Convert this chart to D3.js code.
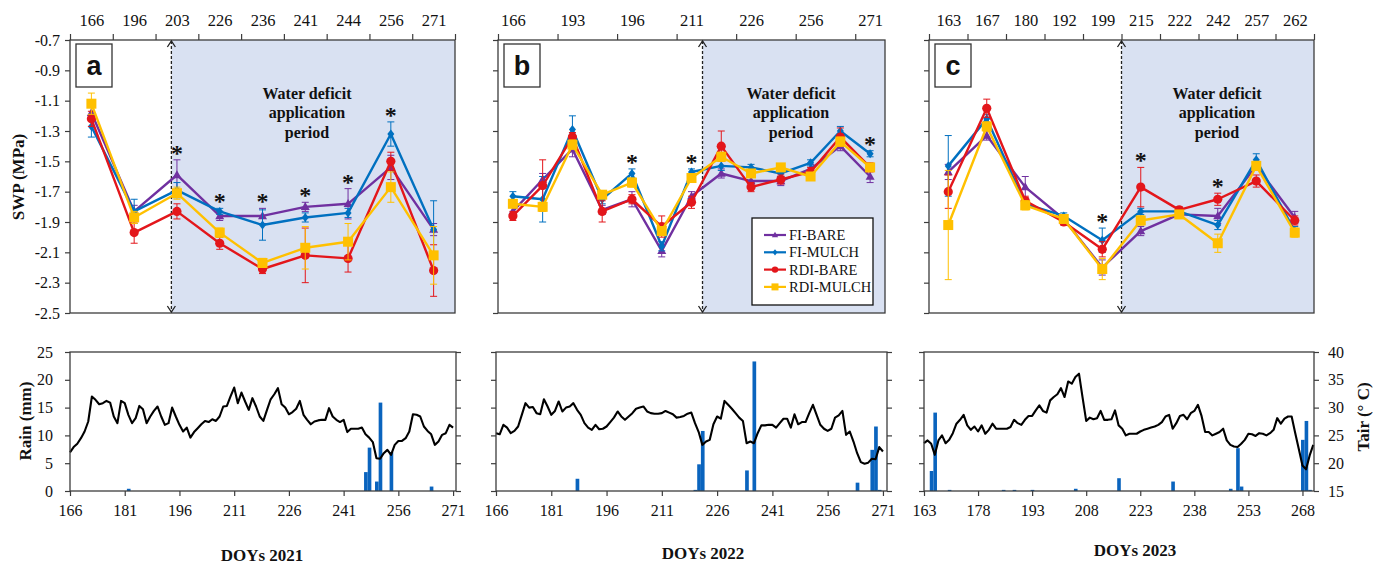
<!DOCTYPE html>
<html>
<head>
<meta charset="utf-8">
<script src="https://cdn.jsdelivr.net/npm/d3@7"></script>
<style>
  body { margin: 0; background: #fff; }
  text { font-family: "Liberation Serif", "Times New Roman", serif; fill: #111; }
</style>
</head>
<body>
<svg id="chart" width="1384" height="566"></svg>
<script>
// ---------- Stem water potential (SWP, MPa) by measurement day ----------
const doy2021 = ["166", "196", "203", "226", "236", "241", "244", "256", "271"];
const fiBare2021 = [-1.18, -1.83, -1.59, -1.86, -1.86, -1.80, -1.78, -1.54, -1.95];
const fiMulch2021 = [-1.27, -1.83, -1.69, -1.83, -1.92, -1.87, -1.84, -1.32, -1.95];
const rdiBare2021 = [-1.22, -1.97, -1.83, -2.04, -2.21, -2.12, -2.14, -1.50, -2.22];
const rdiMulch2021 = [-1.12, -1.87, -1.71, -1.97, -2.17, -2.07, -2.03, -1.67, -2.12];
const fiBareSe2021 = [0.05, 0.04, 0.10, 0.03, 0.05, 0.03, 0.10, 0.08, 0.04];
const fiMulchSe2021 = [0.07, 0.08, 0.05, 0.02, 0.10, 0.03, 0.03, 0.08, 0.19];
const rdiBareSe2021 = [0.05, 0.07, 0.05, 0.04, 0.03, 0.18, 0.09, 0.06, 0.17];
const rdiMulchSe2021 = [0.07, 0.04, 0.04, 0.03, 0.03, 0.14, 0.12, 0.10, 0.19];
const signif2021 = [2, 3, 4, 5, 6, 7];

// 2022: thirteen measurement days, every second one labelled on the axis
const doy2022 = ["166", "", "193", "", "196", "", "211", "", "226", "", "256", "", "271"];
const fiBare2022 = [-1.83, -1.62, -1.42, -1.82, -1.75, -2.09, -1.73, -1.58, -1.63, -1.63, -1.55, -1.40, -1.60];
const fiMulch2022 = [-1.73, -1.75, -1.29, -1.75, -1.58, -2.06, -1.57, -1.53, -1.54, -1.58, -1.51, -1.30, -1.45];
const rdiBare2022 = [-1.86, -1.66, -1.34, -1.83, -1.75, -1.93, -1.77, -1.40, -1.67, -1.62, -1.57, -1.34, -1.54];
const rdiMulch2022 = [-1.78, -1.80, -1.39, -1.72, -1.64, -1.96, -1.61, -1.47, -1.58, -1.54, -1.60, -1.37, -1.54];
const fiBareSe2022 = [0.03, 0.04, 0.05, 0.03, 0.05, 0.04, 0.03, 0.03, 0.03, 0.03, 0.03, 0.03, 0.04];
const fiMulchSe2022 = [0.03, 0.15, 0.09, 0.03, 0.03, 0.03, 0.02, 0.03, 0.02, 0.02, 0.02, 0.03, 0.02];
const rdiBareSe2022 = [0.03, 0.17, 0.03, 0.07, 0.03, 0.07, 0.04, 0.10, 0.03, 0.03, 0.03, 0.06, 0.03];
const rdiMulchSe2022 = [0.02, 0.03, 0.03, 0.02, 0.03, 0.03, 0.02, 0.03, 0.02, 0.02, 0.02, 0.03, 0.02];
const signif2022 = [4, 6, 12];

const doy2023 = ["163", "167", "180", "192", "199", "215", "222", "242", "257", "262"];
const fiBare2023 = [-1.57, -1.33, -1.67, -1.88, -2.20, -1.96, -1.85, -1.86, -1.53, -1.87];
const fiMulch2023 = [-1.53, -1.22, -1.78, -1.86, -2.02, -1.83, -1.83, -1.92, -1.49, -1.96];
const rdiBare2023 = [-1.70, -1.15, -1.76, -1.90, -2.08, -1.67, -1.82, -1.75, -1.63, -1.89];
const rdiMulch2023 = [-1.92, -1.27, -1.79, -1.88, -2.21, -1.89, -1.85, -2.04, -1.53, -1.97];
const fiBareSe2023 = [0.05, 0.03, 0.07, 0.02, 0.05, 0.03, 0.02, 0.05, 0.03, 0.04];
const fiMulchSe2023 = [0.20, 0.03, 0.03, 0.02, 0.08, 0.02, 0.02, 0.03, 0.04, 0.03];
const rdiBareSe2023 = [0.11, 0.06, 0.03, 0.02, 0.05, 0.13, 0.02, 0.04, 0.04, 0.03];
const rdiMulchSe2023 = [0.36, 0.03, 0.03, 0.02, 0.07, 0.03, 0.02, 0.06, 0.03, 0.03];
const signif2023 = [4, 5, 7];

// start of the water deficit period, in measurement-day units along the axis
const deficitStart2021 = 2.37;
const deficitStart2022 = 6.87;
const deficitStart2023 = 5.0;

const swpTicks = [-0.7, -0.9, -1.1, -1.3, -1.5, -1.7, -1.9, -2.1, -2.3, -2.5];
const treatments = ["FI-BARE", "FI-MULCH", "RDI-BARE", "RDI-MULCH"];

// ---------- Daily weather: rain (mm) and mean air temperature (°C) ----------
const tairStart2021 = 166;
const tair2021 = [21.95, 22.9, 23.5, 24.5, 25.7, 27.5, 32.0, 31.4, 30.6, 30.8,
  31.2, 30.9, 28.4, 27.2, 31.2, 30.8, 28.7, 27.2, 28.1, 30.3,
  29.7, 27.2, 28.4, 29.4, 30.2, 28.4, 26.9, 27.2, 30.0, 28.4,
  26.9, 25.7, 26.4, 24.6, 25.6, 26.3, 27.0, 27.6, 27.4, 27.9,
  27.6, 28.4, 30.2, 30.3, 32.0, 33.6, 30.8, 32.7, 31.1, 29.6,
  31.7, 30.2, 28.4, 27.6, 29.6, 31.5, 32.4, 33.5, 30.6, 30.0,
  28.8, 29.2, 29.8, 31.2, 28.7, 27.8, 27.0, 27.5, 27.7, 27.8,
  27.8, 29.9, 28.4, 27.8, 27.4, 27.8, 25.6, 26.2, 26.2, 26.2,
  26.4, 25.2, 24.6, 23.8, 20.9, 20.8, 21.8, 22.4, 21.5, 23.3,
  24.0, 24.0, 24.5, 25.7, 28.8, 28.7, 28.4, 26.6, 25.8, 25.2,
  23.3, 23.9, 25.1, 25.4, 26.9, 26.4];
const rain2021 = [[182, 0.4], [247, 3.4], [248, 7.8], [250, 1.7], [251, 15.9], [254, 7.0], [265, 0.8]];

const tairStart2022 = 166;
const tair2022 = [25.4, 25.2, 26.9, 26.4, 25.4, 25.8, 26.6, 28.7, 30.8, 30.0,
  30.1, 29.0, 28.8, 31.5, 30.2, 28.7, 29.4, 31.1, 29.3, 30.0,
  30.2, 30.8, 29.6, 28.7, 27.2, 26.4, 26.0, 26.9, 26.1, 26.2,
  26.6, 27.4, 28.2, 29.3, 28.4, 27.8, 28.4, 29.0, 29.8, 30.0,
  30.2, 29.3, 29.0, 28.9, 28.9, 29.0, 29.4, 29.1, 28.8, 28.2,
  28.3, 28.5, 28.9, 29.1, 27.2, 25.6, 23.3, 23.9, 24.2, 27.0,
  28.4, 28.0, 31.2, 30.5, 29.8, 29.0, 28.2, 27.6, 23.6, 23.9,
  23.6, 25.4, 26.8, 26.8, 26.9, 26.9, 26.4, 27.2, 28.0, 28.0,
  26.4, 28.8, 27.0, 27.4, 27.4, 29.0, 30.5, 28.7, 26.9, 26.2,
  25.8, 26.2, 28.2, 28.6, 29.4, 25.1, 25.7, 23.9, 21.8, 20.2,
  19.9, 20.1, 20.8, 20.7, 22.9, 22.1];
const rain2022 = [[188, 2.2], [220, 0.2], [221, 4.8], [222, 10.8], [234, 3.7], [236, 23.3],
  [264, 1.5], [268, 7.4], [269, 11.6], [270, 0.2]];

const tairStart2023 = 163;
const tair2023 = [23.6, 24.1, 23.5, 21.5, 24.1, 25.0, 23.6, 24.2, 25.4, 27.1,
  27.8, 28.7, 26.8, 26.0, 26.6, 25.7, 26.8, 25.3, 26.0, 27.1,
  26.2, 26.2, 26.2, 26.2, 26.5, 27.8, 27.2, 26.9, 27.8, 28.5,
  28.5, 29.5, 30.4, 29.4, 29.1, 31.3, 31.9, 32.4, 33.5, 31.9,
  34.7, 34.3, 35.5, 36.1, 31.8, 27.6, 28.2, 27.9, 28.1, 29.4,
  27.8, 27.8, 27.9, 29.5, 26.8, 26.2, 25.0, 25.3, 25.3, 25.3,
  25.7, 26.0, 26.2, 26.4, 26.6, 26.9, 27.4, 28.4, 28.7, 26.2,
  27.2, 28.5, 28.7, 27.9, 29.0, 29.4, 30.5, 28.5, 25.6, 25.6,
  25.0, 25.3, 25.6, 26.2, 24.1, 23.3, 23.0, 22.9, 23.5, 24.2,
  25.3, 25.2, 24.9, 25.4, 25.3, 25.0, 25.4, 26.0, 28.1, 27.1,
  28.0, 28.4, 28.4, 25.4, 22.5, 19.6, 18.9, 21.4, 23.3];
const rain2023 = [[165, 3.6], [166, 14.1], [170, 0.2], [185, 0.2], [188, 0.2], [193, 0.2], [205, 0.4],
  [217, 2.3], [232, 1.7], [248, 0.4], [250, 7.7], [251, 0.8], [268, 9.2], [269, 12.6], [270, 0.2]];

const rainTicks = [0, 5, 10, 15, 20, 25];
const tairTicks = [15, 20, 25, 30, 35, 40];
const doyTicks2021 = [166, 181, 196, 211, 226, 241, 256, 271];
const doyTicks2022 = [166, 181, 196, 211, 226, 241, 256, 271];
const doyTicks2023 = [163, 178, 193, 208, 223, 238, 253, 268];

// ---------- drawing ----------
const svg = d3.select("#chart");
const ink = "#111";
const frameColor = "#3c3c3c";
const shadeColor = "#D9E1F2";
const rainColor = "#0A64BE";
const styles = {
  "FI-BARE":   { color: "#7030A0", shape: "triangle" },
  "FI-MULCH":  { color: "#0070C0", shape: "diamond" },
  "RDI-BARE":  { color: "#E3161B", shape: "circle" },
  "RDI-MULCH": { color: "#FFC000", shape: "square" }
};

function drawMarker(g, shape, color, cx, cy, k) {
  if (shape === "circle") {
    g.append("circle").attr("cx", cx).attr("cy", cy).attr("r", 4.6 * k).attr("fill", color);
  } else if (shape === "square") {
    const s = 10 * k;
    g.append("rect").attr("x", cx - s / 2).attr("y", cy - s / 2).attr("width", s).attr("height", s).attr("fill", color);
  } else if (shape === "triangle") {
    const w = 9 * k, h = 8 * k;
    g.append("path").attr("d", `M${cx},${cy - h * 0.6}L${cx + w / 2},${cy + h * 0.4}L${cx - w / 2},${cy + h * 0.4}Z`).attr("fill", color);
  } else {
    const w = 7 * k, h = 9 * k;
    g.append("path").attr("d", `M${cx},${cy - h / 2}L${cx + w / 2},${cy}L${cx},${cy + h / 2}L${cx - w / 2},${cy}Z`).attr("fill", color);
  }
}

const swpTop = 40, swpBottom = 313;
const ySwp = d3.scaleLinear().domain([-2.5, -0.7]).range([swpBottom, swpTop]);

function drawSwpPanel(cfg) {
  const g = svg.append("g");
  const n = cfg.cats.length;
  const x = d3.scaleLinear().domain([0, n]).range([cfg.left, cfg.right]);
  const cx = i => x(i + 0.5);

  // water deficit period shading
  g.append("rect")
    .attr("x", x(cfg.deficit)).attr("y", swpTop)
    .attr("width", cfg.right - x(cfg.deficit)).attr("height", swpBottom - swpTop)
    .attr("fill", shadeColor);

  // frame
  g.append("rect")
    .attr("x", cfg.left).attr("y", swpTop)
    .attr("width", cfg.right - cfg.left).attr("height", swpBottom - swpTop)
    .attr("fill", "none").attr("stroke", frameColor).attr("stroke-width", 1.3);

  // top category axis: tick marks on boundaries, labels on centres
  const bounds = d3.range(0, n + 1).filter(i => i % cfg.step === 0);
  const tickAxis = g.append("g").attr("transform", `translate(0,${swpTop})`)
    .call(d3.axisTop(x).tickValues(bounds).tickSize(6).tickFormat(""));
  tickAxis.select(".domain").remove();
  tickAxis.selectAll("line").attr("stroke", frameColor).attr("stroke-width", 1.2);

  const labelIdx = d3.range(0, n).filter(i => cfg.cats[i] !== "");
  const labelAxis = g.append("g").attr("transform", `translate(0,${swpTop})`)
    .call(d3.axisTop(x).tickValues(labelIdx.map(i => i + 0.5)).tickSize(0).tickPadding(14)
      .tickFormat(v => cfg.cats[Math.round(v - 0.5)]));
  labelAxis.select(".domain").remove();
  labelAxis.selectAll("text").attr("font-size", 16.5).attr("fill", ink)
    .style("font-family", '"Liberation Serif", serif');

  // left SWP axis
  const yAxis = g.append("g").attr("transform", `translate(${cfg.left},0)`)
    .call(d3.axisLeft(ySwp).tickValues(swpTicks).tickSize(5).tickPadding(5)
      .tickFormat(cfg.yLabels ? (d => d.toFixed(1)) : ""));
  yAxis.select(".domain").remove();
  yAxis.selectAll("line").attr("stroke", frameColor).attr("stroke-width", 1.2);
  yAxis.selectAll("text").attr("font-size", 16).attr("fill", ink)
    .style("font-family", '"Liberation Serif", serif');

  // dashed double arrow marking start of the deficit period
  const dx = x(cfg.deficit);
  g.append("line").attr("x1", dx).attr("x2", dx).attr("y1", swpTop + 1).attr("y2", swpBottom - 1)
    .attr("stroke", "#222").attr("stroke-width", 1.3).attr("stroke-dasharray", "3,2");
  g.append("path").attr("d", `M${dx - 4},${swpTop + 7}L${dx},${swpTop + 1}L${dx + 4},${swpTop + 7}`)
    .attr("fill", "none").attr("stroke", "#222").attr("stroke-width", 1.3);
  g.append("path").attr("d", `M${dx - 4},${swpBottom - 7}L${dx},${swpBottom - 1}L${dx + 4},${swpBottom - 7}`)
    .attr("fill", "none").attr("stroke", "#222").attr("stroke-width", 1.3);

  // period note
  ["Water deficit", "application", "period"].forEach((t, i) => {
    g.append("text").attr("x", cfg.noteX).attr("y", 99 + i * 19.3)
      .attr("text-anchor", "middle").attr("font-size", 16).attr("font-weight", "bold").text(t);
  });

  // treatment series: error bars, line, markers
  treatments.forEach(name => {
    const st = styles[name];
    const vals = cfg.values[name], se = cfg.se[name];
    const sg = g.append("g");
    vals.forEach((v, i) => {
      const y1 = ySwp(v + se[i]), y2 = ySwp(v - se[i]);
      sg.append("line").attr("x1", cx(i)).attr("x2", cx(i)).attr("y1", y1).attr("y2", y2)
        .attr("stroke", st.color).attr("stroke-width", 1);
      [y1, y2].forEach(yy => sg.append("line").attr("x1", cx(i) - 3.5).attr("x2", cx(i) + 3.5)
        .attr("y1", yy).attr("y2", yy).attr("stroke", st.color).attr("stroke-width", 1));
    });
    sg.append("path").datum(vals)
      .attr("d", d3.line().x((v, i) => cx(i)).y(v => ySwp(v)))
      .attr("fill", "none").attr("stroke", st.color).attr("stroke-width", 2.4)
      .attr("stroke-linejoin", "round");
    vals.forEach((v, i) => drawMarker(sg, st.shape, st.color, cx(i), ySwp(v), 1));
  });

  // significance asterisks above the highest error bar
  cfg.signif.forEach(i => {
    const top = d3.max(treatments, t => cfg.values[t][i] + cfg.se[t][i]);
    g.append("text").attr("x", cx(i)).attr("y", ySwp(top) + 1)
      .attr("text-anchor", "middle").attr("font-size", 24).attr("font-weight", "bold").text("*");
  });

  // panel letter
  const bx = cfg.left + 6;
  g.append("rect").attr("x", bx).attr("y", 44).attr("width", 36).attr("height", 43)
    .attr("fill", "#fff").attr("stroke", "#333").attr("stroke-width", 1.3);
  g.append("text").attr("x", bx + 18).attr("y", 75).attr("text-anchor", "middle")
    .attr("font-size", 27).attr("font-weight", "bold")
    .style("font-family", '"Liberation Sans", Arial, sans-serif').text(cfg.letter);
}

function byTreatment(a, b, c, d) {
  return { "FI-BARE": a, "FI-MULCH": b, "RDI-BARE": c, "RDI-MULCH": d };
}

drawSwpPanel({
  letter: "a", left: 70, right: 455, cats: doy2021, step: 1, deficit: deficitStart2021,
  values: byTreatment(fiBare2021, fiMulch2021, rdiBare2021, rdiMulch2021),
  se: byTreatment(fiBareSe2021, fiMulchSe2021, rdiBareSe2021, rdiMulchSe2021),
  signif: signif2021, noteX: 307, yLabels: true
});
drawSwpPanel({
  letter: "b", left: 498, right: 885, cats: doy2022, step: 2, deficit: deficitStart2022,
  values: byTreatment(fiBare2022, fiMulch2022, rdiBare2022, rdiMulch2022),
  se: byTreatment(fiBareSe2022, fiMulchSe2022, rdiBareSe2022, rdiMulchSe2022),
  signif: signif2022, noteX: 791, yLabels: false
});
drawSwpPanel({
  letter: "c", left: 929, right: 1314, cats: doy2023, step: 1, deficit: deficitStart2023,
  values: byTreatment(fiBare2023, fiMulch2023, rdiBare2023, rdiMulch2023),
  se: byTreatment(fiBareSe2023, fiMulchSe2023, rdiBareSe2023, rdiMulchSe2023),
  signif: signif2023, noteX: 1217, yLabels: false
});

// SWP axis title
svg.append("text").attr("transform", "translate(24,177) rotate(-90)")
  .attr("text-anchor", "middle").attr("font-size", 17).attr("font-weight", "bold").text("SWP (MPa)");

// legend inside panel b
const lg = svg.append("g");
lg.append("rect").attr("x", 752).attr("y", 218).attr("width", 121).attr("height", 87)
  .attr("fill", "#fff").attr("stroke", "#111").attr("stroke-width", 1.3);
treatments.forEach((name, i) => {
  const st = styles[name];
  const yy = 235 + i * 17.3;
  lg.append("line").attr("x1", 764).attr("x2", 786).attr("y1", yy).attr("y2", yy)
    .attr("stroke", st.color).attr("stroke-width", 2.2);
  drawMarker(lg, st.shape, st.color, 775, yy, 0.7);
  lg.append("text").attr("x", 789).attr("y", yy + 5).attr("font-size", 14.5).text(name);
});

// ---------- weather panels ----------
const wTop = 352, wBottom = 491;
function drawWeatherPanel(cfg) {
  const g = svg.append("g");
  const x = d3.scaleLinear().domain(cfg.domain).range([cfg.left, cfg.right]);
  const yRain = d3.scaleLinear().domain([0, 25]).range([wBottom, wTop]);
  const yT = d3.scaleLinear().domain([15, 40]).range([wBottom, wTop]);

  // rain bars
  g.selectAll("rect.bar").data(cfg.rain).join("rect")
    .attr("x", d => x(d[0] - 0.4)).attr("width", d => x(d[0] + 0.6) - x(d[0] - 0.4))
    .attr("y", d => yRain(d[1])).attr("height", d => wBottom - yRain(d[1]))
    .attr("fill", rainColor);

  // air temperature line
  g.append("path").datum(cfg.tair)
    .attr("d", d3.line().x((v, i) => x(cfg.start + i)).y(v => yT(v)))
    .attr("fill", "none").attr("stroke", "#000").attr("stroke-width", 2.1)
    .attr("stroke-linejoin", "round");

  // frame
  g.append("rect").attr("x", cfg.left).attr("y", wTop)
    .attr("width", cfg.right - cfg.left).attr("height", wBottom - wTop)
    .attr("fill", "none").attr("stroke", frameColor).attr("stroke-width", 1.3);

  const xa = g.append("g").attr("transform", `translate(0,${wBottom})`)
    .call(d3.axisBottom(x).tickValues(cfg.ticks).tickSize(5).tickPadding(9).tickFormat(d3.format("d")));
  const la = g.append("g").attr("transform", `translate(${cfg.left},0)`)
    .call(d3.axisLeft(yRain).tickValues(rainTicks).tickSize(5).tickPadding(12)
      .tickFormat(cfg.leftLabels ? d3.format("d") : ""));
  const ra = g.append("g").attr("transform", `translate(${cfg.right},0)`)
    .call(d3.axisRight(yT).tickValues(tairTicks).tickSize(5).tickPadding(9)
      .tickFormat(cfg.rightLabels ? d3.format("d") : ""));
  [xa, la, ra].forEach(a => {
    a.select(".domain").remove();
    a.selectAll("line").attr("stroke", frameColor).attr("stroke-width", 1.2);
    a.selectAll("text").attr("font-size", 16).attr("fill", ink)
      .style("font-family", '"Liberation Serif", serif');
  });

  g.append("text").attr("x", cfg.titleX).attr("y", cfg.titleY).attr("text-anchor", "middle")
    .attr("font-size", 17).attr("font-weight", "bold").text(cfg.title);
}

drawWeatherPanel({ left: 70, right: 456, domain: [166, 271.8], ticks: doyTicks2021,
  rain: rain2021, tair: tair2021, start: tairStart2021, leftLabels: true, rightLabels: false,
  title: "DOYs 2021", titleX: 262, titleY: 561 });
drawWeatherPanel({ left: 496, right: 887, domain: [166, 272.1], ticks: doyTicks2022,
  rain: rain2022, tair: tair2022, start: tairStart2022, leftLabels: false, rightLabels: false,
  title: "DOYs 2022", titleX: 703, titleY: 559 });
drawWeatherPanel({ left: 924, right: 1314, domain: [163, 271.2], ticks: doyTicks2023,
  rain: rain2023, tair: tair2023, start: tairStart2023, leftLabels: false, rightLabels: true,
  title: "DOYs 2023", titleX: 1135, titleY: 556 });

svg.append("text").attr("transform", "translate(31,421) rotate(-90)")
  .attr("text-anchor", "middle").attr("font-size", 17).attr("font-weight", "bold").text("Rain (mm)");
svg.append("text").attr("transform", "translate(1369,417) rotate(-90)")
  .attr("text-anchor", "middle").attr("font-size", 17).attr("font-weight", "bold").text("Tair (° C)");
</script>
</body>
</html>
